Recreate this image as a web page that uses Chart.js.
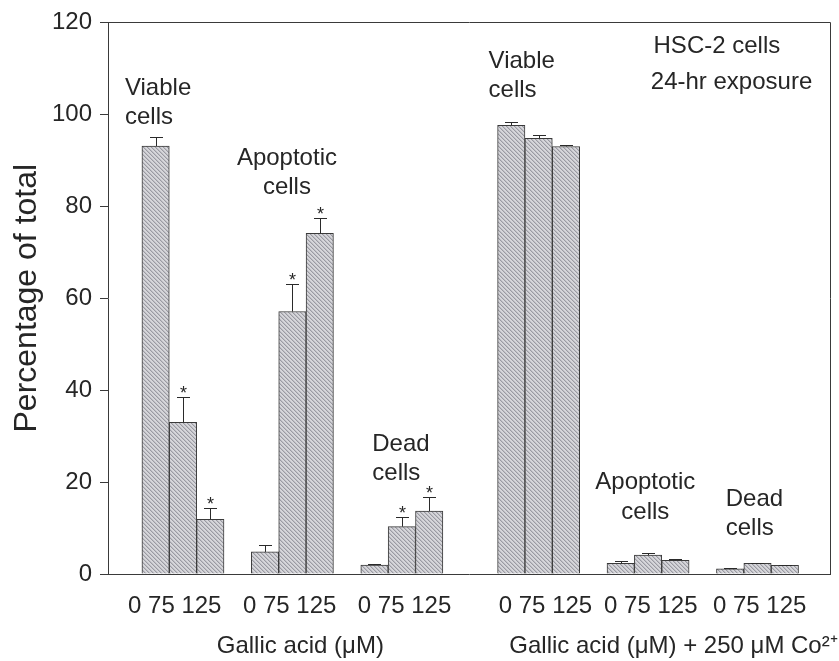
<!DOCTYPE html>
<html><head><meta charset="utf-8">
<script src="https://cdn.jsdelivr.net/npm/chart.js@4"></script>
<style>html,body{margin:0;padding:0;background:#fff}#wrap{width:839px;height:661px;position:relative}</style>
</head><body><div id="wrap"><canvas id="c"></canvas></div>
<script>
// ---- data ----
const doses = ['0', '75', '125'];
const cellTypes = ['Viable cells', 'Apoptotic cells', 'Dead cells'];
const treatments = ['Gallic acid (\u03BCM)', 'Gallic acid (\u03BCM) + 250 \u03BCM Co\u00B2\u207A'];
const gallicMeans = [93.1, 33.0, 11.9, 4.8, 57.1, 74.1, 1.95, 10.3, 13.7];
const gallicErr   = [1.9, 5.4, 2.4, 1.5, 6.0, 3.3, 0.25, 2.0, 3.1];
const gallicSig   = [false, true, true, false, true, true, false, true, true];
const cobaltMeans = [97.6, 94.8, 93.0, 2.3, 4.1, 3.0, 1.1, 2.3, 1.9];
const cobaltErr   = [0.8, 0.8, 0.3, 0.6, 0.5, 0.3, 0.2, 0.15, 0.1];
const cobaltSig   = [false, false, false, false, false, false, false, false, false];
const yTicks = [0, 20, 40, 60, 80, 100, 120];
const infoLines = ['HSC-2 cells', '24-hr exposure'];

// ---- layout helpers (slot index of each bar along the x axis) ----
const PANEL_SLOTS = 13, GROUP_SLOTS = 4;
function slotOf(panel, i) { return panel * PANEL_SLOTS + Math.floor(i / 3) * GROUP_SLOTS + (i % 3); }
const points = [], errs = [], sigs = [];
[[gallicMeans, gallicErr, gallicSig], [cobaltMeans, cobaltErr, cobaltSig]].forEach(([m, e, s], p) => {
  m.forEach((v, i) => { points.push({x: slotOf(p, i), y: v}); errs.push(e[i]); sigs.push(s[i]); });
});
// where each "0 75 125" dose label sits relative to its group centre (slot units)
const doseLabelNudge = [-0.3, -0.1, 0.1, 0.25, 0.1, 0.08];
const groupCenters = [];
for (let p = 0; p < 2; p++) for (let g = 0; g < 3; g++) groupCenters.push(slotOf(p, g * 3 + 1));
const doseLabelAt = groupCenters.map((c, i) => c + doseLabelNudge[i]);

const FONT = '"Liberation Sans", Arial, Helvetica, sans-serif';
const INK = '#262626';

function hatch() {
  const n = 4, c = document.createElement('canvas');
  c.width = n; c.height = n;
  const g = c.getContext('2d');
  g.fillStyle = '#d6d6da'; g.fillRect(0, 0, n, n);
  for (let i = 0; i < n; i++) {
    g.fillStyle = '#9a9aa2'; g.fillRect(i, i, 1, 1);
    g.fillStyle = '#bebec4'; g.fillRect((i + 1) % n, i, 1, 1);
  }
  return g.createPattern(c, 'repeat');
}

// annotation texts, positioned in data units (x: slot, y: percentage)
const notes = [
  {lines: ['Viable', 'cells'], x: -1.12, y: 105.7, align: 'left', lh: 29},
  {lines: ['Apoptotic', 'cells'], x: 4.8, y: 90.5, align: 'center', lh: 29},
  {lines: ['Dead', 'cells'], x: 7.92, y: 28.2, align: 'left', lh: 29},
  {lines: ['Viable', 'cells'], x: 12.17, y: 111.5, align: 'left', lh: 29},
  {lines: [infoLines[0]], x: 18.2, y: 114.8, align: 'left', lh: 29},
  {lines: [infoLines[1]], x: 18.1, y: 107.0, align: 'left', lh: 29},
  {lines: ['Apoptotic', 'cells'], x: 17.9, y: 20.0, align: 'center', lh: 30},
  {lines: ['Dead', 'cells'], x: 20.84, y: 16.3, align: 'left', lh: 29}
];

const overlay = {
  id: 'overlay',
  afterDatasetsDraw(chart) {
    const {ctx, chartArea: a, scales: {x, y}} = chart;
    ctx.save();
    // frame (top and right sides)
    ctx.strokeStyle = '#3a3a3a'; ctx.lineWidth = 1;
    ctx.beginPath();
    ctx.moveTo(Math.round(a.left) + 0.5, Math.round(a.top) + 0.5);
    ctx.lineTo(Math.round(a.right) + 0.5, Math.round(a.top) + 0.5);
    ctx.lineTo(Math.round(a.right) + 0.5, Math.round(a.bottom) + 0.5);
    ctx.stroke();
    // error bars and significance marks
    const meta = chart.getDatasetMeta(0);
    ctx.strokeStyle = '#2a2a2a';
    ctx.fillStyle = INK;
    ctx.font = '18px ' + FONT;
    ctx.textAlign = 'center'; ctx.textBaseline = 'alphabetic';
    meta.data.forEach((bar, i) => {
      const cx = Math.round(bar.x) + 0.5;
      const top = y.getPixelForValue(points[i].y);
      const cap = Math.round(y.getPixelForValue(points[i].y + errs[i])) + 0.5;
      ctx.beginPath();
      ctx.moveTo(cx, top); ctx.lineTo(cx, cap);
      ctx.moveTo(cx - 6.5, cap); ctx.lineTo(cx + 6.5, cap);
      ctx.stroke();
      if (sigs[i]) ctx.fillText('*', cx, cap + 1);
    });
    // annotations
    ctx.font = '24px ' + FONT;
    ctx.textBaseline = 'middle';
    notes.forEach(n => {
      ctx.textAlign = n.align;
      const px = x.getPixelForValue(n.x), py = y.getPixelForValue(n.y);
      n.lines.forEach((t, k) => ctx.fillText(t, px, py + k * n.lh));
    });
    ctx.restore();
  }
};

const X_MIN = -1.74, X_MAX = 24.65;
const titleSlots = [5.29, 18.93];
function noOverhang(h) { return s => { s.height = h; s.paddingLeft = 0; s.paddingRight = 0; }; }

new Chart(document.getElementById('c'), {
  type: 'bar',
  data: {
    datasets: [{
      label: 'Percentage of total',
      data: points,
      backgroundColor: hatch(),
      borderColor: '#3a3a3a',
      borderWidth: 1,
      barPercentage: 1,
      categoryPercentage: 1
    }]
  },
  options: {
    responsive: true,
    maintainAspectRatio: false,
    animation: false,
    events: [],
    layout: {padding: {top: 21, right: 9, left: 0, bottom: 0}},
    plugins: {legend: {display: false}, tooltip: {enabled: false}},
    scales: {
      x: {
        type: 'linear', min: X_MIN, max: X_MAX, offset: false, position: 'bottom', weight: 1,
        grid: {display: false, drawTicks: false, offset: false},
        border: {display: true, color: '#3a3a3a', width: 1},
        afterBuildTicks: s => { s.ticks = doseLabelAt.map(v => ({value: v})); },
        afterFit: noOverhang(52),
        ticks: {
          autoSkip: false, maxRotation: 0, minRotation: 0, padding: 18,
          color: INK, font: {family: FONT, size: 24},
          callback: () => doses.join(' ')
        }
      },
      x2: {
        type: 'linear', min: X_MIN, max: X_MAX, offset: false, position: 'bottom', weight: 10,
        grid: {display: false, drawTicks: false, offset: false},
        border: {display: false},
        afterBuildTicks: s => { s.ticks = titleSlots.map(v => ({value: v})); },
        afterFit: noOverhang(35),
        ticks: {
          autoSkip: false, maxRotation: 0, minRotation: 0, padding: 6,
          color: INK, font: {family: FONT, size: 24},
          callback: (v, i) => treatments[i]
        }
      },
      y: {
        min: 0, max: 120,
        afterBuildTicks: s => { s.ticks = yTicks.map(v => ({value: v})); },
        afterFit: s => { s.width = 108; },
        grid: {display: true, drawOnChartArea: false, drawTicks: true, tickLength: 8, color: '#3a3a3a'},
        border: {display: true, color: '#3a3a3a', width: 1},
        ticks: {padding: 8, color: INK, font: {family: FONT, size: 24}},
        title: {display: true, text: 'Percentage of total', color: INK, font: {family: FONT, size: 32}, padding: {top: 8, bottom: 0}}
      }
    }
  },
  plugins: [overlay]
});
</script></body></html>
